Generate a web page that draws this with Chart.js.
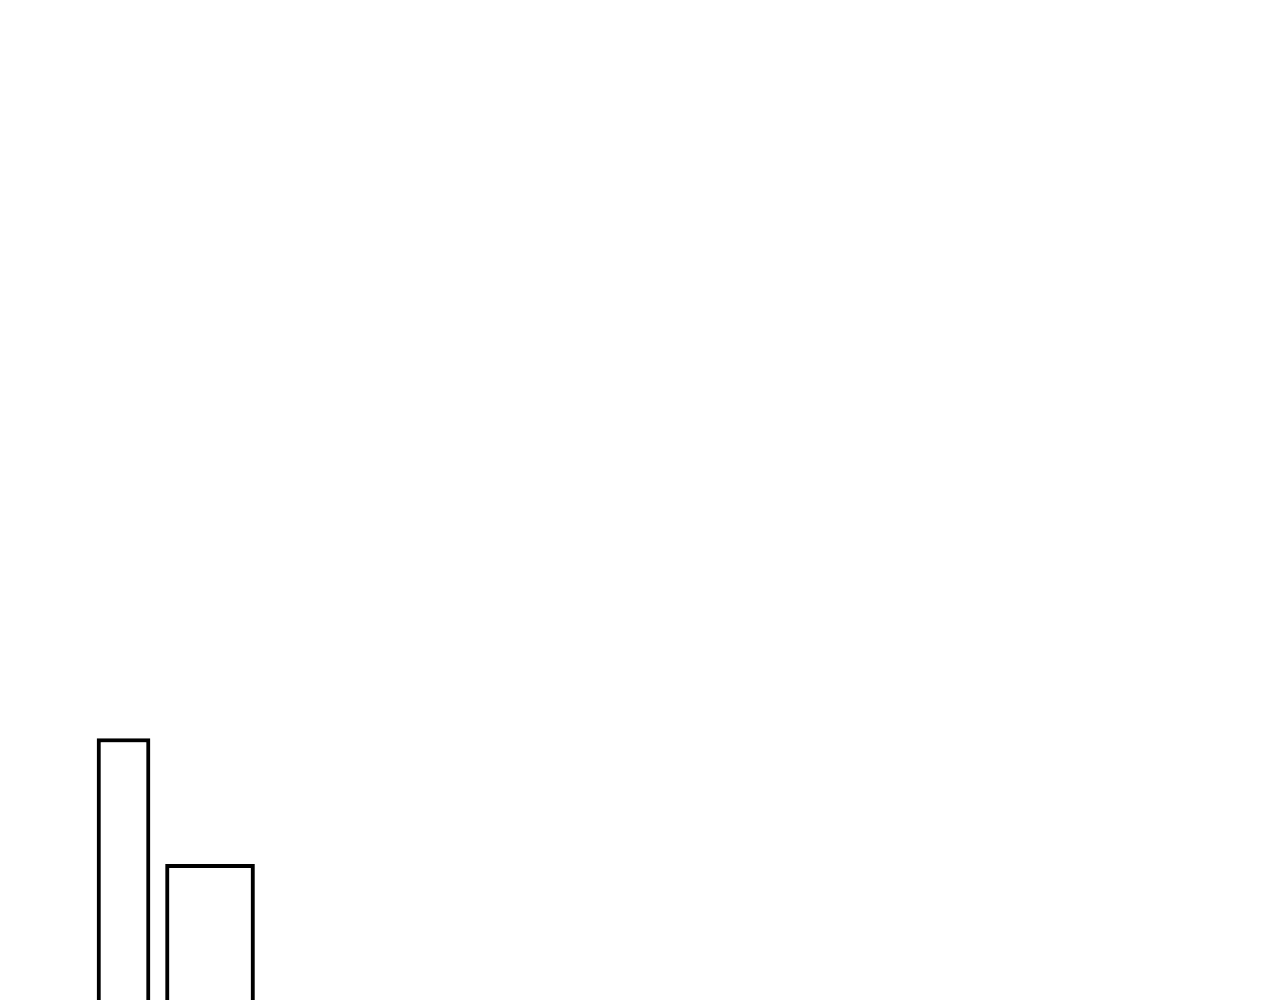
<!DOCTYPE html>
<html>
<head>
<meta charset="utf-8">
<title>Barras</title>
<script src="https://cdn.jsdelivr.net/npm/chart.js@4/dist/chart.umd.min.js"></script>
<style>
  html, body { margin: 0; padding: 0; background: #ffffff; overflow: hidden; }
  #wrap { width: 1280px; height: 1200px; }
</style>
</head>
<body>
<div id="wrap"><canvas id="barChart" width="1280" height="1200"></canvas></div>
<script>
// datos
const categorias = [1, 2];
const valores = [11, 8];
const grosores = [53, 89];

function inicializarGrafico() {
  const canvas = document.getElementById('barChart');
  if (!canvas) {
    console.error("Falta el canvas");
    return;
  }

  const datasets = categorias.map((c, i) => ({
    label: 'Serie ' + (i + 1),
    data: [{ x: c, y: valores[i] }],
    backgroundColor: '#ffffff',
    borderColor: '#000000',
    borderWidth: 4,
    barThickness: grosores[i],
    grouped: false
  }));

  new Chart(canvas, {
    type: 'bar',
    data: { datasets },
    options: {
      responsive: false,
      animation: false,
      devicePixelRatio: 1,
      layout: { padding: 0 },
      plugins: { legend: { display: false }, tooltip: { enabled: false } },
      scales: {
        x: { type: 'linear', display: false, offset: false, min: -0.428, max: 14.37 },
        y: { display: false, beginAtZero: true, min: 0, max: 28.6 }
      }
    }
  });
}

window.addEventListener('DOMContentLoaded', inicializarGrafico);
</script>
</body>
</html>
